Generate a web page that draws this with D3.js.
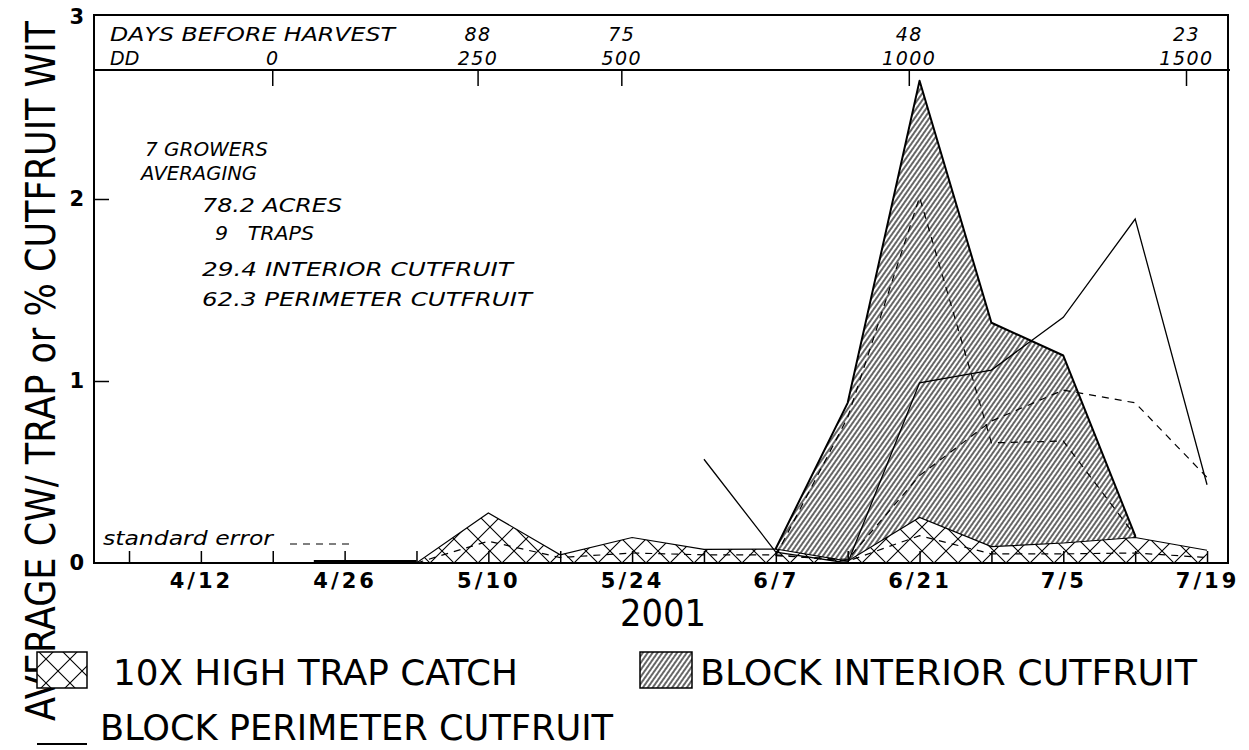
<!DOCTYPE html>
<html lang="en">
<head>
<meta charset="UTF-8">
<title>Cutfruit and trap catch 2001</title>
<script src="https://d3js.org/d3.v7.min.js"></script>
<style>
  body { margin: 0; background: #fff; }
  svg { display: block; }
  .note { font-family: "DejaVu Sans", sans-serif; font-style: italic; font-weight: 200; font-size: 19px; fill: #000; }
  .tick text { font-family: "DejaVu Sans", Verdana, sans-serif; font-weight: bold; font-size: 21px; fill: #000; }
  .legend { font-family: "DejaVu Sans Condensed", "Liberation Sans Narrow", "Liberation Sans", sans-serif; font-size: 36px; fill: #000; }
</style>
</head>
<body>
<svg width="1249" height="750"></svg>
<script>
// sample dates (2001) and series values
const sampleDates = ["2001-04-23","2001-05-03","2001-05-10","2001-05-17","2001-05-24","2001-05-31",
                     "2001-06-07","2001-06-14","2001-06-21","2001-06-28","2001-07-05","2001-07-12","2001-07-19"];
const trapCatch   = [0, 0, 0.275, 0.045, 0.14, 0.075, 0.077, 0.01, 0.25, 0.09, 0.11, 0.14, 0.07];
const trapSE      = [null, 0, 0.12, 0.03, 0.055, 0.045, 0.045, 0.01, 0.15, 0.05, 0.05, 0.055, 0.03];
const interior    = [null, null, null, null, null, null, 0.08, 0.88, 2.65, 1.32, 1.14, 0.15, null];
const interiorSE  = [null, null, null, null, null, null, 0.04, 0.80, 2.01, 0.66, 0.67, 0.15, null];
const perimeter   = [null, null, null, null, null, 0.57, 0.06, 0.0, 0.99, 1.06, 1.35, 1.89, 0.43];
const perimeterSE = [null, null, null, null, null, null, 0.04, 0.02, 0.48, 0.78, 0.95, 0.88, 0.47];

// bottom axis (weekly ticks, every other one labelled)
const weekTicks = ["2001-04-05","2001-04-12","2001-04-19","2001-04-26","2001-05-03","2001-05-10","2001-05-17",
                   "2001-05-24","2001-05-31","2001-06-07","2001-06-14","2001-06-21","2001-06-28","2001-07-05",
                   "2001-07-12","2001-07-19"];
const weekLabels = {"2001-04-12":"4/12","2001-04-26":"4/26","2001-05-10":"5/10","2001-05-24":"5/24",
                    "2001-06-07":"6/7","2001-06-21":"6/21","2001-07-05":"7/5","2001-07-19":"7/19"};

// top axis: degree days and days before harvest
const ddDates   = ["2001-04-19","2001-05-09","2001-05-23","2001-06-20","2001-07-17"];
const ddLabels  = ["0","250","500","1000","1500"];
const dbhLabels = ["","88","75","48","23"];

const yTicks = [0, 1, 2, 3];

const notes = [
  {text: "7 GROWERS", dx: 51, y: 156, w: 123},
  {text: "AVERAGING", dx: 47, y: 180, w: 116},
  {text: "78.2 ACRES", dx: 108, y: 212, w: 140},
  {text: "9\u00a0\u00a0\u00a0TRAPS", dx: 121, y: 240, w: 99},
  {text: "29.4 INTERIOR CUTFRUIT", dx: 108, y: 276, w: 311},
  {text: "62.3 PERIMETER CUTFRUIT", dx: 108, y: 306, w: 330}
];

const svg = d3.select("svg");
const parse = d3.utcParse("%Y-%m-%d");
const margin = {left: 94, right: 1228, top: 17, bottom: 563};

const x = d3.scaleUtc()
  .domain([new Date(Date.UTC(2001, 3, 1, 14, 10)), new Date(Date.UTC(2001, 6, 21, 1))])
  .range([margin.left, margin.right]);
const y = d3.scaleLinear().domain([0, 3]).range([margin.bottom, margin.top]);

const rows = sampleDates.map((d, i) => ({
  date: parse(d), trap: trapCatch[i], trapSE: trapSE[i], interior: interior[i],
  interiorSE: interiorSE[i], perimeter: perimeter[i], perimeterSE: perimeterSE[i]
}));

svg.append("rect").attr("width", 1249).attr("height", 750).attr("fill", "#fff");

// patterns
const defs = svg.append("defs");
const cross = defs.append("pattern").attr("id", "cross").attr("patternUnits", "userSpaceOnUse")
  .attr("width", 24).attr("height", 24).attr("x", margin.left).attr("y", 11);
cross.append("rect").attr("width", 24).attr("height", 24).attr("fill", "#fff");
cross.append("path").attr("d", "M0,0L24,24M24,0L0,24M-2,22L2,26M22,-2L26,2")
  .attr("stroke", "#000").attr("stroke-width", 1.1);

const hatch = defs.append("pattern").attr("id", "hatch").attr("patternUnits", "userSpaceOnUse")
  .attr("width", 4).attr("height", 10).attr("patternTransform", "rotate(35)");
hatch.append("rect").attr("width", 4).attr("height", 10).attr("fill", "#fff");
hatch.append("line").attr("x1", 1).attr("x2", 1).attr("y1", 0).attr("y2", 10)
  .attr("stroke", "#000").attr("stroke-width", 1.2);

// interior cutfruit area
const interiorArea = d3.area().defined(d => d.interior != null)
  .x(d => x(d.date)).y0(y(0)).y1(d => y(d.interior));
svg.append("path").datum(rows).attr("d", interiorArea)
  .attr("fill", "url(#hatch)").attr("stroke", "#000").attr("stroke-width", 2)
  .attr("stroke-linejoin", "round");

// trap catch area on top
const trapArea = d3.area().x(d => x(d.date)).y0(y(0)).y1(d => y(d.trap));
svg.append("path").datum(rows).attr("d", trapArea).attr("fill", "url(#cross)");
svg.append("path").datum(rows)
  .attr("d", d3.line().x(d => x(d.date)).y(d => y(d.trap)))
  .attr("fill", "none").attr("stroke", "#000").attr("stroke-width", 1.2);
// zero-catch stretch drawn heavy along the baseline
const zeroRuns = rows.slice(1).map((d, i) => [rows[i], d]).filter(p => p[0].trap === 0 && p[1].trap === 0);
svg.selectAll(".zero").data(zeroRuns).join("line").attr("class", "zero")
  .attr("x1", p => x(p[0].date)).attr("x2", p => x(p[1].date))
  .attr("y1", y(0) - 1.5).attr("y2", y(0) - 1.5)
  .attr("stroke", "#000").attr("stroke-width", 3);

// perimeter cutfruit line
svg.append("path").datum(rows)
  .attr("d", d3.line().defined(d => d.perimeter != null).x(d => x(d.date)).y(d => y(d.perimeter)))
  .attr("fill", "none").attr("stroke", "#000").attr("stroke-width", 1.3);

// standard error lines
["trapSE", "interiorSE", "perimeterSE"].forEach(k => {
  svg.append("path").datum(rows)
    .attr("d", d3.line().defined(d => d[k] != null).x(d => x(d.date)).y(d => y(d[k])))
    .attr("fill", "none").attr("stroke", "#000").attr("stroke-width", 1.2)
    .attr("stroke-dasharray", "7,6");
});

// frame and top strip
svg.append("rect").attr("x", margin.left).attr("y", margin.top - 2)
  .attr("width", margin.right - margin.left).attr("height", margin.bottom - margin.top + 2)
  .attr("fill", "none").attr("stroke", "#000").attr("stroke-width", 2);
const stripY = 70;
svg.append("line").attr("x1", margin.left).attr("x2", margin.right + 2)
  .attr("y1", stripY).attr("y2", stripY).attr("stroke", "#000").attr("stroke-width", 2);

const topStrip = svg.append("g").attr("class", "note");
topStrip.selectAll(".ddtick").data(ddDates).join("line")
  .attr("x1", d => x(parse(d))).attr("x2", d => x(parse(d)))
  .attr("y1", stripY).attr("y2", stripY + 16).attr("stroke", "#000").attr("stroke-width", 1.5);
topStrip.selectAll(".dd").data(ddLabels).join("text")
  .attr("x", (d, i) => x(parse(ddDates[i]))).attr("y", 65).attr("text-anchor", "middle")
  .attr("letter-spacing", 1.5).text(d => d);
topStrip.selectAll(".dbh").data(dbhLabels).join("text")
  .attr("x", (d, i) => x(parse(ddDates[i]))).attr("y", 41).attr("text-anchor", "middle")
  .attr("letter-spacing", 1.5).text(d => d);
topStrip.append("text").attr("x", 110).attr("y", 41).attr("textLength", 285)
  .attr("lengthAdjust", "spacingAndGlyphs").text("DAYS BEFORE HARVEST");
topStrip.append("text").attr("x", 110).attr("y", 65).text("DD");

// notes
svg.append("g").selectAll("text").data(notes).join("text").attr("class", "note")
  .attr("x", d => margin.left + d.dx).attr("y", d => d.y)
  .attr("textLength", d => d.w).attr("lengthAdjust", "spacingAndGlyphs").text(d => d.text);

// standard error key
svg.append("text").attr("class", "note").attr("x", 103).attr("y", 545)
  .attr("textLength", 170).attr("lengthAdjust", "spacingAndGlyphs").text("standard error");
svg.append("line").attr("x1", 290).attr("x2", 350).attr("y1", 544).attr("y2", 544)
  .attr("stroke", "#000").attr("stroke-width", 1.2).attr("stroke-dasharray", "7,6");

// axes
const xAxis = d3.axisBottom(x).tickValues(weekTicks.map(parse)).tickSize(-12).tickPadding(10)
  .tickFormat(d => weekLabels[d3.utcFormat("%Y-%m-%d")(d)] || "");
const gx = svg.append("g").attr("transform", `translate(0,${y(0)})`).call(xAxis);
gx.select(".domain").remove();
gx.selectAll(".tick line").attr("stroke", "#000").attr("stroke-width", 1.5);
gx.selectAll(".tick text").attr("letter-spacing", 3);

const yAxis = d3.axisLeft(y).tickValues(yTicks).tickSize(-15).tickPadding(10).tickFormat(d3.format("d"));
const gy = svg.append("g").attr("transform", `translate(${margin.left},0)`).call(yAxis);
gy.select(".domain").remove();
gy.selectAll(".tick line").attr("stroke", "#000").attr("stroke-width", 1.5)
  .filter(d => d === 0 || d === 3).remove();

svg.append("text").attr("x", 663).attr("y", 626).attr("text-anchor", "middle")
  .attr("font-family", "'DejaVu Sans Condensed', 'Liberation Sans Narrow', sans-serif")
  .attr("font-size", 38).attr("textLength", 86).attr("lengthAdjust", "spacingAndGlyphs").text("2001");

// y title
svg.append("text").attr("transform", "translate(55,721) rotate(-90)")
  .attr("font-family", "'DejaVu Sans', sans-serif").attr("font-size", 40)
  .attr("textLength", 700).attr("lengthAdjust", "spacingAndGlyphs")
  .text("AVERAGE CW/ TRAP or % CUTFRUIT WIT");

// legend
const lg = svg.append("g");
lg.append("rect").attr("x", 37).attr("y", 652).attr("width", 50).attr("height", 36)
  .attr("fill", "url(#cross)").attr("stroke", "#000").attr("stroke-width", 1.5);
lg.append("text").attr("class", "legend").attr("x", 113).attr("y", 685)
  .attr("textLength", 405).attr("lengthAdjust", "spacingAndGlyphs").text("10X HIGH TRAP CATCH");
lg.append("rect").attr("x", 640).attr("y", 652).attr("width", 52).attr("height", 36)
  .attr("fill", "url(#hatch)").attr("stroke", "#000").attr("stroke-width", 1.5);
lg.append("text").attr("class", "legend").attr("x", 700).attr("y", 685)
  .attr("textLength", 497).attr("lengthAdjust", "spacingAndGlyphs").text("BLOCK INTERIOR CUTFRUIT");
lg.append("line").attr("x1", 37).attr("x2", 87).attr("y1", 744).attr("y2", 744)
  .attr("stroke", "#000").attr("stroke-width", 2);
lg.append("text").attr("class", "legend").attr("x", 100).attr("y", 740)
  .attr("textLength", 513).attr("lengthAdjust", "spacingAndGlyphs").text("BLOCK PERIMETER CUTFRUIT");
</script>
</body>
</html>
